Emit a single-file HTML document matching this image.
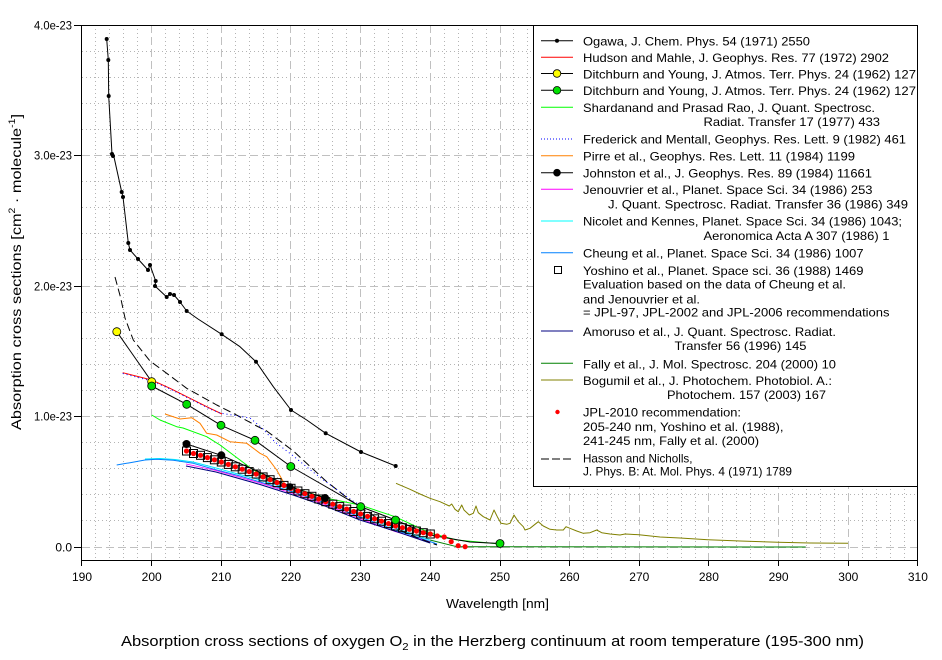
<!DOCTYPE html>
<html><head><meta charset="utf-8"><style>
html,body{margin:0;padding:0;background:#fff;}
svg{display:block;font-family:"Liberation Sans",Arial,sans-serif;}
</style></head><body>
<svg width="942" height="660" viewBox="0 0 942 660" xmlns="http://www.w3.org/2000/svg">
<rect x="0" y="0" width="942" height="660" fill="#fff"/>
<!-- minor grid -->
<g stroke="#b4b4b4" stroke-width="1" stroke-dasharray="1,3" fill="none" shape-rendering="crispEdges">
<path d="M95.5 25V560M109.5 25V560M123.5 25V560M137.5 25V560M165.5 25V560M179.5 25V560M193.5 25V560M207.5 25V560M235.5 25V560M249.5 25V560M263.5 25V560M277.5 25V560M304.5 25V560M318.5 25V560M332.5 25V560M346.5 25V560M374.5 25V560M388.5 25V560M402.5 25V560M416.5 25V560M444.5 25V560M458.5 25V560M472.5 25V560M486.5 25V560M513.5 25V560M527.5 25V560M541.5 25V560M555.5 25V560M583.5 25V560M597.5 25V560M611.5 25V560M625.5 25V560M653.5 25V560M667.5 25V560M681.5 25V560M695.5 25V560M722.5 25V560M736.5 25V560M750.5 25V560M764.5 25V560M792.5 25V560M806.5 25V560M820.5 25V560M834.5 25V560M862.5 25V560M876.5 25V560M890.5 25V560M904.5 25V560"/>
<path d="M82 520.5H917M82 494.5H917M82 468.5H917M82 442.5H917M82 390.5H917M82 364.5H917M82 338.5H917M82 312.5H917M82 259.5H917M82 233.5H917M82 207.5H917M82 181.5H917M82 129.5H917M82 103.5H917M82 77.5H917M82 51.5H917"/>
</g>
<!-- major grid -->
<g stroke="#c0c0c0" stroke-width="1" stroke-dasharray="8,4" fill="none" shape-rendering="crispEdges">
<path d="M151.5 25V560M221.5 25V560M290.5 25V560M360.5 25V560M430.5 25V560M500.5 25V560M569.5 25V560M639.5 25V560M708.5 25V560M778.5 25V560M848.5 25V560"/>
<path d="M82 547.5H917M82 416.5H917M82 286.5H917M82 155.5H917"/>
</g>
<!-- axis ticks -->
<g stroke="#000" stroke-width="1" shape-rendering="crispEdges">
<path d="M74 25.5H82M74 155.5H82M74 286.5H82M74 416.5H82M74 547.5H82"/>
<path d="M81.5 560V566M151.5 560V566M221.5 560V566M290.5 560V566M360.5 560V566M430.5 560V566M500.5 560V566M569.5 560V566M639.5 560V566M708.5 560V566M778.5 560V566M848.5 560V566M917.5 560V566"/>
</g>

<!-- series -->
<g fill="none" stroke-width="1" stroke-linejoin="round">
<polyline stroke="#00e8ff" points="145,459 160,458.5 175,459.5 193,462 216,468 260,480 293,490 325,501 360,515 395,528 430,540"/>
<polyline stroke="#0080ff" points="116.7,465 130,462.7 145,460 156.7,459.3 173.3,460.3 193.3,463.3 216.7,470 240,476 260,482 293.3,492 325,503 360,517 395,530 420,538 437,544"/>
<polyline stroke="#ff00ff" stroke-width="0.8" points="186,464 216,470.5 260,483 293,493.5 325,504.5 360,518.5 395,531.5 430,542"/>
<polyline stroke="#000080" points="186,466 216,472 260,484.5 293,495 325,506 360,520 396.7,531.7 430,543"/>
<polyline stroke="#000" stroke-dasharray="8,4" points="115,277 120.7,298 125,318 133.3,340 150,361 166.7,373.3 186.7,388.3 216.7,405 233.3,413.3 256.7,426 266.7,431 293.3,451 326.7,481.7 350,500 380,520 410,535 437,545"/>
<polyline stroke="#ff0000" points="122.7,372.7 151.7,380 170,388.3 190,398.3 210,408.3 222,414"/>
<polyline stroke="#0000ff" stroke-dasharray="1,3" points="122.7,373.5 151.7,381 170,389 190,399 210,409 220,413 250,418 262,428 275,442 292,455 313,472 333,487 353,501 362,506"/>
<polyline stroke="#00ff00" points="151.7,415 160,420 176.7,426.7 183,428 206.7,436.7 220,445 233.3,455 253.3,470 290,486.7 326.7,498.3 360,505 395,516.7 430,533 456.7,540 500,544"/>
<polyline stroke="#ff8000" points="165,414 180,419 191.7,417.7 200,423.3 206.7,433.3 216.7,435 230,441.7 246.7,443.3 260,453.3 266.7,456.7 276.7,470 283.3,481.7 286.7,486.7"/>
<polyline stroke="#008000" points="430,540 456.7,546.7 805.7,547"/>
<polyline stroke="#808000" points="396,483.3 410,489.3 420,494 430,498.3 440,501.7 449.3,506 451.7,504 455,509.3 458.3,511.7 461.7,505 464,510 469.3,515 473.3,513.3 476,506 478.3,512.7 483.3,516.7 490,520 494,510 497.3,516.7 501,523.3 506.7,524.3 510,523.3 514,515 518.3,521.7 523.3,526.7 525,530 530,528.3 538.3,521.7 543.3,526 550,529.3 556.7,530 563.3,530 566,526.7 570,528.3 576.7,531 583.3,533.3 590,532.7 596.7,530 601.7,532.7 610,534 620,535 625,534 630,534.3 639,534.7 660,537 680,538 708,539.7 740,541 778,542.3 810,543 848,543.3"/>
<polyline stroke="#000" points="116.8,331.7 151.7,381.7"/>
<polyline stroke="#000" points="151.7,386 186.7,404.3 221,425.3 255,440.3 290.8,466.5 360.7,506.7 395.5,520 430,535 470,542 500,543.5"/>
<polyline stroke="#000" points="186.5,444 221.3,455.3 255,470 290,486.7 325,498"/>
<polyline stroke="#000" points="106.7,39 108.3,60 108.7,96 112,154 113,156 114,157 121.7,192 123,197 128.3,243 130,250 138,259 148,270 150,265 155.7,281 155,286 166.7,297 170,294 174,295 180,302 186.7,311 198,319 221.7,334.3 240,346.7 256,361.7 273.3,386.7 291,410 306.7,420 325.7,433.3 361,452 395.7,466"/>
</g>
<g fill="#000">
<circle cx="106.7" cy="39" r="2"/><circle cx="108.3" cy="60" r="2"/><circle cx="108.7" cy="96" r="2"/><circle cx="112" cy="154" r="2"/><circle cx="113" cy="156" r="2"/><circle cx="121.7" cy="192" r="2"/><circle cx="123" cy="197" r="2"/><circle cx="128.3" cy="243" r="2"/><circle cx="130" cy="250" r="2"/><circle cx="138" cy="259" r="2"/><circle cx="148" cy="270" r="2"/><circle cx="150" cy="265" r="2"/><circle cx="155.7" cy="281" r="2"/><circle cx="155" cy="286" r="2"/><circle cx="166.7" cy="297" r="2"/><circle cx="170" cy="294" r="2"/><circle cx="174" cy="295" r="2"/><circle cx="180" cy="302" r="2"/><circle cx="186.7" cy="311" r="2"/><circle cx="221.7" cy="334.3" r="2"/><circle cx="256" cy="361.7" r="2"/><circle cx="291" cy="410" r="2"/><circle cx="325.7" cy="433.3" r="2"/><circle cx="361" cy="452" r="2"/><circle cx="395.7" cy="466" r="2"/>
</g>
<g fill="none" stroke="#000" stroke-width="1">
<rect x="182.5" y="447" width="8" height="8"/><rect x="189.5" y="449.5" width="8" height="8"/><rect x="196.5" y="451.3" width="8" height="8"/><rect x="203.4" y="453.6" width="8" height="8"/><rect x="210.4" y="455.8" width="8" height="8"/><rect x="217.3" y="458" width="8" height="8"/><rect x="224.3" y="460.4" width="8" height="8"/><rect x="231.3" y="462.8" width="8" height="8"/><rect x="238.2" y="465.2" width="8" height="8"/><rect x="245.2" y="467.6" width="8" height="8"/><rect x="252.2" y="470" width="8" height="8"/><rect x="259.1" y="472.9" width="8" height="8"/><rect x="266.1" y="475.7" width="8" height="8"/><rect x="273" y="478.6" width="8" height="8"/><rect x="280" y="481.4" width="8" height="8"/><rect x="287" y="484.3" width="8" height="8"/><rect x="293.9" y="487" width="8" height="8"/><rect x="300.9" y="489.7" width="8" height="8"/><rect x="307.9" y="492.3" width="8" height="8"/><rect x="314.8" y="495" width="8" height="8"/><rect x="321.8" y="497.7" width="8" height="8"/><rect x="328.8" y="500.2" width="8" height="8"/><rect x="335.7" y="502.6" width="8" height="8"/><rect x="342.7" y="505.1" width="8" height="8"/><rect x="349.7" y="507.5" width="8" height="8"/><rect x="356.6" y="510" width="8" height="8"/><rect x="363.6" y="512.4" width="8" height="8"/><rect x="370.6" y="514.8" width="8" height="8"/><rect x="377.5" y="517.2" width="8" height="8"/><rect x="384.5" y="519.6" width="8" height="8"/><rect x="391.5" y="522" width="8" height="8"/><rect x="398.4" y="523.7" width="8" height="8"/><rect x="405.4" y="525.3" width="8" height="8"/><rect x="412.4" y="527" width="8" height="8"/><rect x="419.3" y="528.7" width="8" height="8"/><rect x="426.3" y="530" width="8" height="8"/>
</g>
<g fill="#ff0000">
<circle cx="186.5" cy="451" r="2.6"/><circle cx="193.5" cy="453.5" r="2.6"/><circle cx="200.5" cy="455.3" r="2.6"/><circle cx="207.4" cy="457.6" r="2.6"/><circle cx="214.4" cy="459.8" r="2.6"/><circle cx="221.3" cy="462" r="2.6"/><circle cx="228.3" cy="464.4" r="2.6"/><circle cx="235.3" cy="466.8" r="2.6"/><circle cx="242.2" cy="469.2" r="2.6"/><circle cx="249.2" cy="471.6" r="2.6"/><circle cx="256.2" cy="474" r="2.6"/><circle cx="263.1" cy="476.9" r="2.6"/><circle cx="270.1" cy="479.7" r="2.6"/><circle cx="277" cy="482.6" r="2.6"/><circle cx="284" cy="485.4" r="2.6"/><circle cx="291" cy="488.3" r="2.6"/><circle cx="297.9" cy="491" r="2.6"/><circle cx="304.9" cy="493.7" r="2.6"/><circle cx="311.9" cy="496.3" r="2.6"/><circle cx="318.8" cy="499" r="2.6"/><circle cx="325.8" cy="501.7" r="2.6"/><circle cx="332.8" cy="504.2" r="2.6"/><circle cx="339.7" cy="506.6" r="2.6"/><circle cx="346.7" cy="509.1" r="2.6"/><circle cx="353.7" cy="511.5" r="2.6"/><circle cx="360.6" cy="514" r="2.6"/><circle cx="367.6" cy="516.4" r="2.6"/><circle cx="374.6" cy="518.8" r="2.6"/><circle cx="381.5" cy="521.2" r="2.6"/><circle cx="388.5" cy="523.6" r="2.6"/><circle cx="395.5" cy="526" r="2.6"/><circle cx="402.4" cy="527.7" r="2.6"/><circle cx="409.4" cy="529.3" r="2.6"/><circle cx="416.4" cy="531" r="2.6"/><circle cx="423.3" cy="532.7" r="2.6"/><circle cx="430.3" cy="534" r="2.6"/><circle cx="437.3" cy="536" r="2.6"/><circle cx="444.2" cy="537" r="2.6"/><circle cx="451.2" cy="541.7" r="2.6"/><circle cx="458.2" cy="545.7" r="2.6"/><circle cx="465.1" cy="546.7" r="2.6"/>
</g>
<g fill="#000"><circle cx="186.5" cy="444" r="4"/><circle cx="221.3" cy="455.3" r="4"/><circle cx="290" cy="486.7" r="3.5"/><circle cx="325" cy="498" r="4"/></g>
<g stroke="#000" stroke-width="0.8">
<circle cx="116.8" cy="331.7" r="4" fill="#ffff00"/><circle cx="151.7" cy="381.7" r="4" fill="#ffff00"/>
<circle cx="151.7" cy="386" r="4" fill="#00e000"/><circle cx="186.7" cy="404.3" r="4" fill="#00e000"/><circle cx="221" cy="425.3" r="4" fill="#00e000"/><circle cx="255" cy="440.3" r="4" fill="#00e000"/><circle cx="290.8" cy="466.5" r="4" fill="#00e000"/><circle cx="360.7" cy="506.7" r="4" fill="#00e000"/><circle cx="395.5" cy="520" r="4" fill="#00e000"/><circle cx="500" cy="543.5" r="4" fill="#00e000"/>
</g>

<rect x="81.5" y="25.5" width="836" height="535" fill="none" stroke="#000" stroke-width="1" shape-rendering="crispEdges"/>

<rect x="533.5" y="25.5" width="384" height="461" fill="#fff" stroke="#000" stroke-width="1" shape-rendering="crispEdges"/>
<g fill="none" stroke-width="1">
<line x1="541" y1="40.7" x2="573" y2="40.7" stroke="#000"/>
<line x1="541" y1="57.3" x2="573" y2="57.3" stroke="#ff0000"/>
<line x1="541" y1="73.5" x2="573" y2="73.5" stroke="#000"/>
<line x1="541" y1="90.3" x2="573" y2="90.3" stroke="#000"/>
<line x1="541" y1="107.3" x2="573" y2="107.3" stroke="#00ff00"/>
<line x1="541" y1="139" x2="573" y2="139" stroke="#0000ff" stroke-dasharray="1,2"/>
<line x1="541" y1="155.7" x2="573" y2="155.7" stroke="#ff8000"/>
<line x1="541" y1="172.7" x2="573" y2="172.7" stroke="#000"/>
<line x1="541" y1="189.3" x2="573" y2="189.3" stroke="#ff00ff"/>
<line x1="541" y1="221" x2="573" y2="221" stroke="#00ffff"/>
<line x1="541" y1="252.7" x2="573" y2="252.7" stroke="#0080ff"/>
<line x1="541" y1="331" x2="573" y2="331" stroke="#000080"/>
<line x1="541" y1="363.3" x2="573" y2="363.3" stroke="#008000"/>
<line x1="541" y1="380" x2="573" y2="380" stroke="#808000"/>
<line x1="541" y1="459" x2="573" y2="459" stroke="#000" stroke-dasharray="8,3"/>
</g>
<circle cx="557" cy="40.7" r="2" fill="#000"/>
<circle cx="557" cy="73.5" r="3.8" fill="#ffff00" stroke="#000" stroke-width="0.8"/>
<circle cx="557" cy="90.3" r="3.8" fill="#00e000" stroke="#000" stroke-width="0.8"/>
<circle cx="557" cy="172.7" r="3.8" fill="#000"/>
<rect x="554.5" y="266.5" width="7" height="7" fill="#fff" stroke="#000" stroke-width="1"/>
<circle cx="557.5" cy="412" r="2.2" fill="#ff0000"/>

<g font-size="12" fill="#000">
<text x="583" y="45.5" textLength="227" lengthAdjust="spacingAndGlyphs">Ogawa, J. Chem. Phys. 54 (1971) 2550</text>
<text x="583" y="62" textLength="306" lengthAdjust="spacingAndGlyphs">Hudson and Mahle, J. Geophys. Res. 77 (1972) 2902</text>
<text x="583" y="78.3" textLength="333" lengthAdjust="spacingAndGlyphs">Ditchburn and Young, J. Atmos. Terr. Phys. 24 (1962) 127</text>
<text x="583" y="95" textLength="333" lengthAdjust="spacingAndGlyphs">Ditchburn and Young, J. Atmos. Terr. Phys. 24 (1962) 127</text>
<text x="583" y="112" textLength="292" lengthAdjust="spacingAndGlyphs">Shardanand and Prasad Rao, J. Quant. Spectrosc.</text>
<text x="703.5" y="126" textLength="176.5" lengthAdjust="spacingAndGlyphs">Radiat. Transfer 17 (1977) 433</text>
<text x="583" y="143.7" textLength="323" lengthAdjust="spacingAndGlyphs">Frederick and Mentall, Geophys. Res. Lett. 9 (1982) 461</text>
<text x="583" y="160.3" textLength="272" lengthAdjust="spacingAndGlyphs">Pirre et al., Geophys. Res. Lett. 11 (1984) 1199</text>
<text x="583" y="177.3" textLength="289" lengthAdjust="spacingAndGlyphs">Johnston et al., J. Geophys. Res. 89 (1984) 11661</text>
<text x="583" y="194" textLength="289.5" lengthAdjust="spacingAndGlyphs">Jenouvrier et al., Planet. Space Sci. 34 (1986) 253</text>
<text x="608" y="208.3" textLength="300" lengthAdjust="spacingAndGlyphs">J. Quant. Spectrosc. Radiat. Transfer 36 (1986) 349</text>
<text x="583" y="225.7" textLength="319" lengthAdjust="spacingAndGlyphs">Nicolet and Kennes, Planet. Space Sci. 34 (1986) 1043;</text>
<text x="703.5" y="240" textLength="186" lengthAdjust="spacingAndGlyphs">Aeronomica Acta A 307 (1986) 1</text>
<text x="583" y="257.3" textLength="280.5" lengthAdjust="spacingAndGlyphs">Cheung et al., Planet. Space Sci. 34 (1986) 1007</text>
<text x="583" y="275" textLength="280.5" lengthAdjust="spacingAndGlyphs">Yoshino et al., Planet. Space sci. 36 (1988) 1469</text>
<text x="583" y="288.5" textLength="263" lengthAdjust="spacingAndGlyphs">Evaluation based on the data of Cheung et al.</text>
<text x="583" y="303.3" textLength="117" lengthAdjust="spacingAndGlyphs">and Jenouvrier et al.</text>
<text x="583" y="316.7" textLength="306.5" lengthAdjust="spacingAndGlyphs">= JPL-97, JPL-2002 and JPL-2006 recommendations</text>
<text x="583" y="336" textLength="253" lengthAdjust="spacingAndGlyphs">Amoruso et al., J. Quant. Spectrosc. Radiat.</text>
<text x="674.5" y="350" textLength="132" lengthAdjust="spacingAndGlyphs">Transfer 56 (1996) 145</text>
<text x="583" y="368.3" textLength="253" lengthAdjust="spacingAndGlyphs">Fally et al., J. Mol. Spectrosc. 204 (2000) 10</text>
<text x="583" y="385" textLength="249" lengthAdjust="spacingAndGlyphs">Bogumil et al., J. Photochem. Photobiol. A.:</text>
<text x="667" y="399" textLength="159" lengthAdjust="spacingAndGlyphs">Photochem. 157 (2003) 167</text>
<text x="583" y="416.5" textLength="158" lengthAdjust="spacingAndGlyphs">JPL-2010 recommendation:</text>
<text x="583" y="431" textLength="200.5" lengthAdjust="spacingAndGlyphs">205-240 nm, Yoshino et al. (1988),</text>
<text x="583" y="445" textLength="176" lengthAdjust="spacingAndGlyphs">241-245 nm, Fally et al. (2000)</text>
<text x="583" y="462.5" textLength="109.5" lengthAdjust="spacingAndGlyphs">Hasson and Nicholls,</text>
<text x="583" y="475.5" textLength="209" lengthAdjust="spacingAndGlyphs">J. Phys. B: At. Mol. Phys. 4 (1971) 1789</text>
</g>

<g font-size="12" fill="#000" text-anchor="end">
<text x="72" y="29.5" textLength="38" lengthAdjust="spacingAndGlyphs">4.0e-23</text>
<text x="72" y="159.5" textLength="38" lengthAdjust="spacingAndGlyphs">3.0e-23</text>
<text x="72" y="290.5" textLength="38" lengthAdjust="spacingAndGlyphs">2.0e-23</text>
<text x="72" y="420.5" textLength="38" lengthAdjust="spacingAndGlyphs">1.0e-23</text>
<text x="72" y="551.5">0.0</text>
</g>
<g font-size="12" fill="#000" text-anchor="middle">
<text x="82" y="581">190</text><text x="151.7" y="581">200</text><text x="221.3" y="581">210</text><text x="291" y="581">220</text><text x="360.6" y="581">230</text><text x="430.3" y="581">240</text><text x="500" y="581">250</text><text x="569.6" y="581">260</text><text x="639.3" y="581">270</text><text x="708.9" y="581">280</text><text x="778.6" y="581">290</text><text x="848.3" y="581">300</text><text x="917.9" y="581">310</text>
</g>
<text x="446" y="608" font-size="13" textLength="103" lengthAdjust="spacingAndGlyphs">Wavelength [nm]</text>
<text transform="translate(21,430) rotate(-90)" font-size="14" textLength="316" lengthAdjust="spacingAndGlyphs">Absorption cross sections [cm<tspan dy="-6" font-size="9">2</tspan><tspan dy="6"> · molecule</tspan><tspan dy="-6" font-size="9">-1</tspan><tspan dy="6">]</tspan></text>
<text x="121" y="646" font-size="14.5" textLength="743" lengthAdjust="spacingAndGlyphs">Absorption cross sections of oxygen O<tspan dy="4" font-size="10">2</tspan><tspan dy="-4"> in the Herzberg continuum at room temperature (195-300 nm)</tspan></text>
</svg>
</body></html>
